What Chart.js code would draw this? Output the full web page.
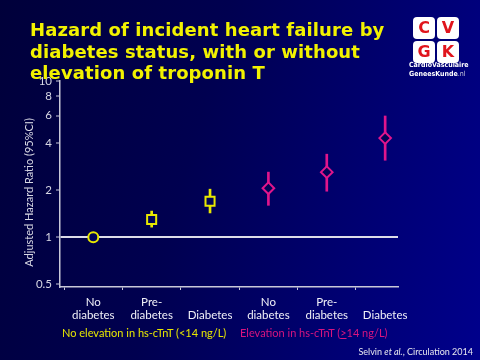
<!DOCTYPE html>
<html>
<head>
<meta charset="utf-8">
<script src="https://cdn.jsdelivr.net/npm/chart.js@4.4.0/dist/chart.umd.min.js"></script>
<style>
  html, body { margin: 0; padding: 0; }
  body {
    width: 480px; height: 360px; overflow: hidden; position: relative;
    background: linear-gradient(105deg, #00003a 0%, #000050 40%, #000074 75%, #00008c 100%);
    font-family: Lato, sans-serif;
  }
  #hrChart { position: absolute; left: 0; top: 0; }
  .title {
    position: absolute; left: 30px; top: 19px;
    color: #f2f200; font: bold 18px 'DejaVu Sans', sans-serif;
    line-height: 21.5px; white-space: nowrap; letter-spacing: 0.1px;
  }
  .logo { position: absolute; left: 413px; top: 17px; width: 48px; }
  .logo .box {
    position: absolute; width: 22px; height: 22px; background: #fff; border-radius: 4px;
    color: #e0141c; font: bold 16px 'DejaVu Sans', sans-serif; text-align: center; line-height: 22px;
  }
  .logo .cap {
    position: absolute; top: 44px; left: -4px; width: 56px; text-align: center;
    color: #fff; font: bold 7px 'DejaVu Sans Condensed', 'DejaVu Sans', sans-serif; line-height: 8.5px;
  }
  .group { position: absolute; top: 326px; font: 11px Lato, sans-serif; white-space: nowrap; }
  .source { position: absolute; right: 7px; top: 346px; color: #e8e8f0; font: 9px Lato, sans-serif; }
</style>
</head>
<body>
<canvas id="hrChart" width="480" height="360"></canvas>
<div class="title">Hazard of incident heart failure by<br>diabetes status, with or without<br>elevation of troponin T</div>
<div class="logo">
  <div class="box" style="left:0;top:0">C</div>
  <div class="box" style="left:24px;top:0">V</div>
  <div class="box" style="left:0;top:24px">G</div>
  <div class="box" style="left:24px;top:24px">K</div>
  <div class="cap">CardioVasculaire<br>GeneesKunde<span style="font-weight:normal;color:#ccd">.nl</span></div>
</div>
<div class="group" style="left:62px;color:#e6e600">No elevation in hs-cTnT (&lt;14 ng/L)</div>
<div class="group" style="left:240px;color:#d8147f">Elevation in hs-cTnT (<u>&gt;</u>14 ng/L)</div>
<div class="source">Selvin <i>et al.</i>, Circulation 2014</div>
<script>
// --- données ---
const xLabels = [['No', 'diabetes'], ['Pre-', 'diabetes'], ['', 'Diabetes'],
                 ['No', 'diabetes'], ['Pre-', 'diabetes'], ['', 'Diabetes']];
const xPos = [1, 2, 3, 4, 5, 6];
const hazardRatio = [1.00, 1.30, 1.70, 2.06, 2.61, 4.31];
const ciLow = [null, 1.16, 1.43, 1.60, 1.97, 3.11];
const ciHigh = [null, 1.47, 2.03, 2.61, 3.40, 5.97];
const yTicks = [0.5, 1, 2, 4, 6, 8, 10];

const YELLOW = '#e8e800';
const MAGENTA = '#e0158c';
const AXIS = '#c8c8d8';
const colors = xPos.map(x => x <= 3 ? YELLOW : MAGENTA);
const markerStyles = ['circle', 'rect', 'rect', 'rectRot', 'rectRot', 'rectRot'];
const markerRadius = [5, 6.4, 6.4, 5.8, 5.8, 5.8];

const ciIdx = xPos.map((x, i) => i).filter(i => ciLow[i] !== null);

new Chart(document.getElementById('hrChart'), {
    type: 'scatter',
    data: {
        datasets: [
            {
                type: 'line',
                data: xPos.map((x, i) => ({ x: x, y: hazardRatio[i] })),
                showLine: false,
                pointStyle: markerStyles,
                pointRadius: markerRadius,
                pointBorderWidth: 2,
                pointBorderColor: colors,
                pointBackgroundColor: '#000458',
                order: 0
            },
            {
                type: 'bar',
                data: ciIdx.map(i => ({ x: xPos[i], y: [ciLow[i], ciHigh[i]] })),
                backgroundColor: ciIdx.map(i => colors[i]),
                barThickness: 2,
                order: 1
            }
        ]
    },
    options: {
        responsive: false,
        animation: false,
        events: [],
        layout: { padding: { left: 0, top: 81, right: 82, bottom: 33 } },
        plugins: { legend: { display: false }, tooltip: { enabled: false } },
        scales: {
            x: {
                type: 'linear',
                min: 0.43,
                max: 6.22,
                offset: false,
                afterBuildTicks: s => { s.ticks = xPos.map(v => ({ value: v })); },
                afterFit: s => { s.height = 40; },
                ticks: {
                    callback: v => xLabels[v - 1],
                    color: '#f0f0f8',
                    font: { family: 'Lato', size: 11.5 },
                    maxRotation: 0,
                    autoSkip: false,
                    padding: 5
                },
                grid: { drawOnChartArea: false, tickLength: 3, tickColor: AXIS },
                border: { color: AXIS, width: 1.5 }
            },
            y: {
                type: 'logarithmic',
                min: 0.48,
                max: 10,
                afterBuildTicks: s => { s.ticks = yTicks.map(v => ({ value: v })); },
                afterFit: s => { s.width = 60; },
                ticks: {
                    callback: v => String(v),
                    color: '#d8d8e4',
                    font: { family: 'Lato', size: 11.5 },
                    padding: 4
                },
                grid: {
                    color: c => (c.tick && c.tick.value === 1) ? '#dcdce8' : 'rgba(0,0,0,0)',
                    lineWidth: 2,
                    tickLength: 4,
                    tickColor: AXIS,
                    tickWidth: 1
                },
                border: { color: AXIS, width: 1.5 },
                title: {
                    display: true,
                    // espaces insécables pour décaler le titre vers le bas
                    text: 'Adjusted Hazard Ratio (95%CI)\u00a0\u00a0\u00a0\u00a0\u00a0\u00a0',
                    color: '#d8d8e4',
                    font: { family: 'Lato', size: 11 },
                    padding: { top: 23, bottom: 0 }
                }
            }
        }
    }
});
</script>
</body>
</html>
